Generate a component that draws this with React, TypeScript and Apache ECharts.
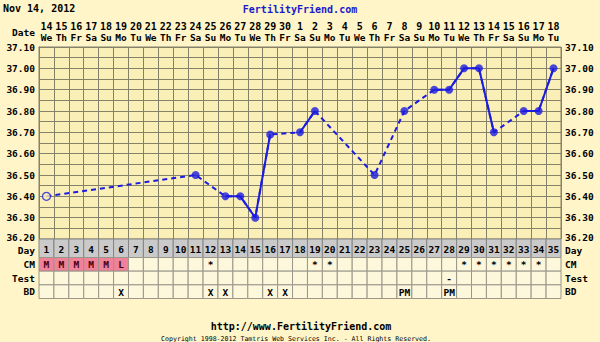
import React, { useEffect, useRef } from "react";
import * as echarts from "echarts";

// ---- data ----
const cycleDays = ["1","2","3","4","5","6","7","8","9","10","11","12","13","14","15","16","17","18","19","20","21","22","23","24","25","26","27","28","29","30","31","32","33","34","35"];
const dates = ["14","15","16","17","18","19","20","21","22","23","24","25","26","27","28","29","30","1","2","3","4","5","6","7","8","9","10","11","12","13","14","15","16","17","18"];
const weekdays = ["We","Th","Fr","Sa","Su","Mo","Tu","We","Th","Fr","Sa","Su","Mo","Tu","We","Th","Fr","Sa","Su","Mo","Tu","We","Th","Fr","Sa","Su","Mo","Tu","We","Th","Fr","Sa","Su","Mo","Tu"];
const temps: (number | null)[] = [
  36.40, null, null, null, null, null, null, null, null, null,
  36.50, null, 36.40, 36.40, 36.30, 36.69, null, 36.70, 36.80, null,
  null, null, 36.50, null, 36.80, null, 36.90, 36.90, 37.00, 37.00,
  36.70, null, 36.80, 36.80, 37.00,
];
const openDays = [1];
const rowNames = ["CM", "Test", "BD"];
const cmValues = ["M","M","M","M","M","L","","","","","","*","","","","","","","*","*","","","","","","","","","*","*","*","*","*","*",""];
const testValues = ["","","","","","","","","","","","","","","","","","","","","","","","","","","","-","","","","","","",""];
const bdValues = ["","","","","","X","","","","","","X","X","","","X","X","","","","","","","","PM","","","PM","","","","","","",""];

const FONT = '"DejaVu Sans Mono", monospace';
const PAGE_BG = "#fff5c8";
const PLOT_BG = "#faefb6";
const GRID_LINE = "#86826a";
const BLUE = "#1c1ce0";
const Y_MIN = 36.2;

export default function App() {
  const ref = useRef<HTMLDivElement>(null);
  useEffect(() => {
    if (!ref.current) return;
    const chart = echarts.init(ref.current, undefined, { renderer: "svg" });

    const solidVals = temps.map((v, i) =>
      v != null && ((i > 0 && temps[i - 1] != null) || (i < temps.length - 1 && temps[i + 1] != null)) ? v : null
    );
    const points: any[] = [];
    temps.forEach((v, i) => {
      if (v == null) return;
      const open = openDays.includes(i + 1);
      points.push({
        value: [i, v],
        itemStyle: open
          ? { color: PLOT_BG, borderColor: BLUE, borderWidth: 1.3 }
          : { color: BLUE },
      });
    });

    const tableRows = [cmValues, testValues, bdValues];
    const rowData: number[][] = [];
    tableRows.forEach((row, r) => row.forEach((_, i) => rowData.push([i, r])));
    const dayData = cycleDays.map((_, i) => [i, 0]);

    const labelStyle = { color: "#000", fontFamily: FONT, fontWeight: "bold" as const, fontSize: 9.5 };

    const cellRender = (kind: "day" | "row") => (params: any, api: any) => {
      const i = api.value(0);
      const r = api.value(1);
      const c = api.coord([i, r]);
      const s = api.size([1, 1]);
      let text = "";
      let fill = "#fdf7dc";
      let stroke = "#9a968a";
      let textFill = "#000";
      let dy = 0.5;
      if (kind === "day") {
        text = cycleDays[i];
        fill = "#cacaca";
        stroke = "#858585";
        dy = 1;
      } else {
        text = tableRows[r][i];
        if (r === 0 && (text === "M" || text === "L")) {
          fill = "#ef8299";
          textFill = "#4a0010";
        }
      }
      return {
        type: "group",
        children: [
          {
            type: "rect",
            shape: { x: c[0] - s[0] / 2, y: c[1] - s[1] / 2, width: s[0], height: s[1] },
            style: { fill, stroke, lineWidth: 1 },
          },
          {
            type: "text",
            style: {
              text,
              x: c[0],
              y: c[1] + dy,
              align: "center",
              verticalAlign: "middle",
              fill: textFill,
              fontFamily: FONT,
              fontWeight: "bold",
              fontSize: 9.5,
            },
          },
        ],
      };
    };

    const hiddenCatX = (gridIndex: number) => ({
      type: "category" as const,
      gridIndex,
      data: cycleDays,
      boundaryGap: true,
      axisLine: { show: false },
      axisTick: { show: false },
      axisLabel: { show: false },
      splitLine: { show: false },
    });
    const tableY = (gridIndex: number, data: string[], position: "left" | "right", shiftDown: boolean) => ({
      type: "category" as const,
      gridIndex,
      data,
      inverse: true,
      position,
      axisLine: { show: false },
      axisTick: { show: false },
      splitLine: { show: false },
      axisLabel: {
        ...labelStyle,
        margin: 4,
        align: position === "left" ? ("right" as const) : ("left" as const),
        formatter: (v: string) => (shiftDown ? `{low|${v}}` : `{n|${v}}`),
        rich: {
          n: { ...labelStyle },
          low: { ...labelStyle, padding: [5, 0, 0, 0] },
        },
      },
    });
    const tempLabel = (v: number) =>
      Math.abs(v - Y_MIN) < 1e-6 ? `{up|${v.toFixed(2)}}` : `{n|${v.toFixed(2)}}`;
    const tempRich = {
      n: { ...labelStyle },
      up: { ...labelStyle, padding: [0, 0, 3, 0] },
    };

    chart.setOption({
      animation: false,
      backgroundColor: PAGE_BG,
      grid: [
        { left: 39, right: 39, top: 47, height: 192, show: true, backgroundColor: PLOT_BG, borderColor: GRID_LINE, borderWidth: 1 },
        { left: 39, right: 39, top: 239, height: 18.5 },
        { left: 39, right: 39, top: 257.5, height: 41 },
      ],
      xAxis: [
        {
          type: "category",
          gridIndex: 0,
          position: "top",
          data: cycleDays,
          boundaryGap: true,
          axisLine: { show: true, lineStyle: { color: GRID_LINE } },
          axisTick: { show: false },
          splitLine: { show: true, lineStyle: { color: GRID_LINE, width: 1 } },
          axisLabel: {
            interval: 0,
            margin: 4,
            formatter: (_: string, idx: number) => `{n|${dates[idx]}}\n{w|${weekdays[idx]}}`,
            rich: {
              n: { ...labelStyle, fontSize: 10, lineHeight: 11 },
              w: { ...labelStyle, fontSize: 9.5, lineHeight: 11 },
            },
          },
        },
        hiddenCatX(1),
        hiddenCatX(2),
      ],
      yAxis: [
        {
          type: "value",
          gridIndex: 0,
          min: Y_MIN,
          max: 37.1,
          interval: 0.1,
          position: "left",
          axisLine: { show: true, lineStyle: { color: GRID_LINE } },
          axisTick: { show: false },
          splitLine: { show: true, lineStyle: { color: GRID_LINE, width: 1 } },
          minorTick: { show: false, splitNumber: 2 },
          minorSplitLine: { show: true, lineStyle: { color: GRID_LINE, width: 1 } },
          axisLabel: { ...labelStyle, margin: 4, formatter: tempLabel, rich: tempRich },
        },
        {
          type: "value",
          gridIndex: 0,
          min: Y_MIN,
          max: 37.1,
          interval: 0.1,
          position: "right",
          axisLine: { show: false },
          axisTick: { show: false },
          splitLine: { show: false },
          axisLabel: { ...labelStyle, margin: 4, formatter: tempLabel, rich: tempRich },
        },
        tableY(1, ["Day"], "left", true),
        tableY(1, ["Day"], "right", true),
        tableY(2, rowNames, "left", false),
        tableY(2, rowNames, "right", false),
      ],
      series: [
        {
          type: "line",
          xAxisIndex: 0,
          yAxisIndex: 0,
          data: temps,
          connectNulls: true,
          showSymbol: false,
          symbol: "none",
          lineStyle: { color: BLUE, width: 2, type: [5, 4] },
          z: 3,
        },
        {
          type: "line",
          xAxisIndex: 0,
          yAxisIndex: 0,
          data: solidVals,
          connectNulls: false,
          showSymbol: false,
          symbol: "none",
          lineStyle: { color: BLUE, width: 2, type: "solid" },
          z: 4,
        },
        {
          type: "scatter",
          xAxisIndex: 0,
          yAxisIndex: 0,
          data: points,
          symbol: "circle",
          symbolSize: 8,
          z: 5,
        },
        {
          type: "custom",
          xAxisIndex: 1,
          yAxisIndex: 2,
          data: dayData,
          renderItem: cellRender("day"),
        },
        {
          type: "custom",
          xAxisIndex: 2,
          yAxisIndex: 4,
          data: rowData,
          renderItem: cellRender("row"),
        },
      ],
      graphic: [
        { type: "text", left: 3, top: 3, style: { text: "Nov 14, 2012", fill: "#000", fontFamily: FONT, fontWeight: "bold", fontSize: 10 } },
        { type: "text", x: 300, y: 9, style: { text: "FertilityFriend.com", fill: "#1a1acc", fontFamily: FONT, fontWeight: "bold", fontSize: 10, align: "center", verticalAlign: "middle" } },
        { type: "text", x: 35, y: 32, style: { text: "Date", fill: "#000", fontFamily: FONT, fontWeight: "bold", fontSize: 9.5, align: "right", verticalAlign: "middle" } },
        { type: "text", x: 301, y: 326, style: { text: "http://www.FertilityFriend.com", fill: "#000", fontFamily: FONT, fontWeight: "bold", fontSize: 10, align: "center", verticalAlign: "middle" } },
        { type: "text", x: 296, y: 338.5, style: { text: "Copyright 1998-2012 Tamtris Web Services Inc. - All Rights Reserved.", fill: "#000", fontFamily: FONT, fontSize: 6.6, align: "center", verticalAlign: "middle" } },
      ],
    });
    return () => chart.dispose();
  }, []);
  return (
    <div
      ref={ref}
      style={{ position: "fixed", left: 0, top: 0, width: 600, height: 342, background: PAGE_BG }}
    />
  );
}
